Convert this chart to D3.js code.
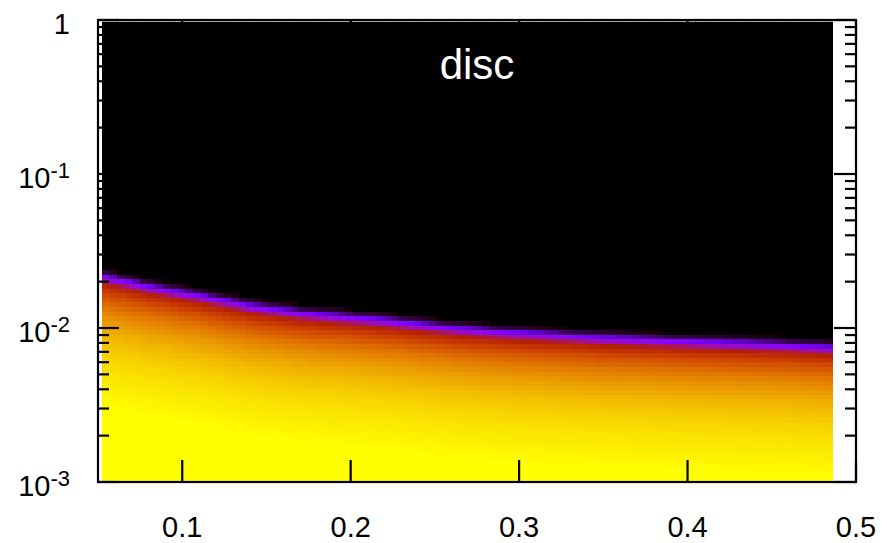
<!DOCTYPE html>
<html>
<head>
<meta charset="utf-8">
<script src="https://cdn.jsdelivr.net/npm/d3@7/dist/d3.min.js"></script>
<style>
  html, body { margin: 0; padding: 0; background: #fff; }
  svg { display: block; }
  text { font-family: "Liberation Sans", Arial, sans-serif; }
</style>
</head>
<body>
<svg id="chart" width="887" height="543"></svg>
<script>
// Axis ticks and labels
const xTicks = [0.1, 0.2, 0.3, 0.4, 0.5];
const xTickLabels = ["0.1", "0.2", "0.3", "0.4", "0.5"];
const yTicks = [1e-3, 1e-2, 1e-1, 1];
const yTickBase = ["10", "10", "10", "1"];
const yTickExp = ["-3", "-2", "-1", ""];
const title = "disc";

// Map grid: x extent of the sampled columns and number of columns / log rows
const gridX = [0.0522, 0.4857];
const nCols = 96;
const gridY = [1e-3, 1];
const nRows = 100;

// Upper edge of the filled region (y value) for each column, left to right
const edgeY = [
  0.02203, 0.02146, 0.02093, 0.02044, 0.01993, 0.01943, 0.01897, 0.01857,
  0.01822, 0.01784, 0.01747, 0.01713, 0.01678, 0.01640, 0.01604, 0.01569,
  0.01534, 0.01500, 0.01464, 0.01431, 0.01408, 0.01387, 0.01365, 0.01345,
  0.01322, 0.01301, 0.01284, 0.01272, 0.01259, 0.01246, 0.01235, 0.01222,
  0.01209, 0.01198, 0.01186, 0.01174, 0.01163, 0.01147, 0.01134, 0.01118,
  0.01104, 0.01091, 0.01076, 0.01062, 0.01049, 0.01035, 0.01024, 0.01015,
  0.01006, 0.00997, 0.00988, 0.00979, 0.00971, 0.00963, 0.00956, 0.00950,
  0.00943, 0.00938, 0.00931, 0.00925, 0.00918, 0.00913, 0.00906, 0.00899,
  0.00894, 0.00887, 0.00884, 0.00880, 0.00876, 0.00872, 0.00868, 0.00864,
  0.00860, 0.00856, 0.00852, 0.00848, 0.00845, 0.00841, 0.00837, 0.00833,
  0.00829, 0.00826, 0.00822, 0.00818, 0.00816, 0.00812, 0.00809, 0.00805,
  0.00801, 0.00798, 0.00793, 0.00789, 0.00782, 0.00778, 0.00773, 0.00767
];

// Level (0..1) by row offset from the edge: two rows above it, then downwards
const levelProfile = [
  0.0, 0.05, 0.27, 0.45, 0.55, 0.62, 0.68, 0.72, 0.76, 0.79, 0.815,
  0.835, 0.855, 0.87, 0.885, 0.90, 0.91, 0.92, 0.93, 0.94, 0.945,
  0.95, 0.96, 0.965, 0.97, 0.975, 0.98, 0.985, 0.99, 0.995, 1.0
];

// Layout
const frame = { left: 98, right: 856, top: 20, bottom: 482 };

const x = d3.scaleLinear().domain([0.05, 0.5]).range([frame.left, frame.right]);
const y = d3.scaleLog().domain([1e-3, 1]).range([frame.bottom, frame.top]);

// black -> violet -> red -> orange -> yellow palette
function palette(v) {
  const r = Math.sqrt(v);
  const g = v * v * v;
  const b = Math.max(0, Math.sin(2 * Math.PI * v));
  return d3.rgb(Math.round(255 * r), Math.round(255 * g), Math.round(255 * b)).toString();
}

// level at a fractional row offset from the edge
function levelAt(p) {
  if (p <= 0) return 0;
  const last = levelProfile.length - 1;
  if (p >= last) return levelProfile[last];
  const i = Math.floor(p), t = p - i;
  return levelProfile[i] * (1 - t) + levelProfile[i + 1] * t;
}

const svg = d3.select("#chart");

// Heat map cells
const colW = (gridX[1] - gridX[0]) / nCols;
const ly0 = Math.log10(gridY[0]), ly1 = Math.log10(gridY[1]);
const rowDex = (ly1 - ly0) / nRows;

const cells = [];
for (let c = 0; c < nCols; c++) {
  const edgeLog = Math.log10(edgeY[c]);
  for (let r = 0; r < nRows; r++) {
    const topLog = ly0 + rowDex * (r + 1);
    const p = (edgeLog - topLog) / rowDex + 2;
    cells.push({
      x0: gridX[0] + colW * c,
      x1: gridX[0] + colW * (c + 1),
      y0: Math.pow(10, ly0 + rowDex * r),
      y1: Math.pow(10, topLog),
      v: levelAt(p)
    });
  }
}

svg.append("defs").append("clipPath").attr("id", "plotClip")
  .append("rect")
  .attr("x", frame.left).attr("y", frame.top + 1.7)
  .attr("width", frame.right - frame.left).attr("height", frame.bottom - frame.top - 1.7);

svg.append("g")
  .attr("clip-path", "url(#plotClip)")
  .attr("shape-rendering", "crispEdges")
  .selectAll("rect")
  .data(cells)
  .join("rect")
  .attr("x", d => x(d.x0))
  .attr("y", d => y(d.y1))
  .attr("width", d => x(d.x1) - x(d.x0) + 0.6)
  .attr("height", d => y(d.y0) - y(d.y1) + 0.6)
  .attr("fill", d => palette(d.v));

// Title inside the plot
svg.append("text")
  .attr("x", 477).attr("y", 79)
  .attr("text-anchor", "middle")
  .attr("fill", "#fff")
  .attr("font-size", 42)
  .text(title);

// Ticks
const minorY = [];
for (let e = -3; e < 0; e++) {
  for (let m = 2; m <= 9; m++) minorY.push(m * Math.pow(10, e));
}

const tickG = svg.append("g").attr("stroke", "#000").attr("stroke-width", 2.2);
yTicks.forEach(t => {
  tickG.append("line").attr("x1", frame.left).attr("x2", frame.left + 21).attr("y1", y(t)).attr("y2", y(t));
  tickG.append("line").attr("x1", frame.right).attr("x2", frame.right - 22).attr("y1", y(t)).attr("y2", y(t));
});
minorY.forEach(t => {
  tickG.append("line").attr("x1", frame.left).attr("x2", frame.left + 11).attr("y1", y(t)).attr("y2", y(t));
  tickG.append("line").attr("x1", frame.right).attr("x2", frame.right - 11).attr("y1", y(t)).attr("y2", y(t));
});
xTicks.forEach(t => {
  tickG.append("line").attr("x1", x(t)).attr("x2", x(t)).attr("y1", frame.bottom).attr("y2", frame.bottom - 22);
  tickG.append("line").attr("x1", x(t)).attr("x2", x(t)).attr("y1", frame.top).attr("y2", frame.top + 22);
});

// Frame
svg.append("rect")
  .attr("x", frame.left).attr("y", frame.top)
  .attr("width", frame.right - frame.left).attr("height", frame.bottom - frame.top)
  .attr("fill", "none").attr("stroke", "#000").attr("stroke-width", 2.2);

// X tick labels
svg.append("g").selectAll("text")
  .data(xTicks)
  .join("text")
  .attr("x", d => x(d))
  .attr("y", 537)
  .attr("text-anchor", "middle")
  .attr("font-size", 29)
  .attr("fill", "#000")
  .text((d, i) => xTickLabels[i]);

// Y tick labels with superscript exponents
const yl = svg.append("g");
yTicks.forEach((t, i) => {
  const txt = yl.append("text")
    .attr("x", 70)
    .attr("y", y(t) + 14)
    .attr("text-anchor", "end")
    .attr("font-size", 29)
    .attr("fill", "#000");
  txt.append("tspan").text(yTickBase[i]);
  if (yTickExp[i]) {
    txt.append("tspan").attr("font-size", 22).attr("dy", -10).text(yTickExp[i]);
  }
});
</script>
</body>
</html>
